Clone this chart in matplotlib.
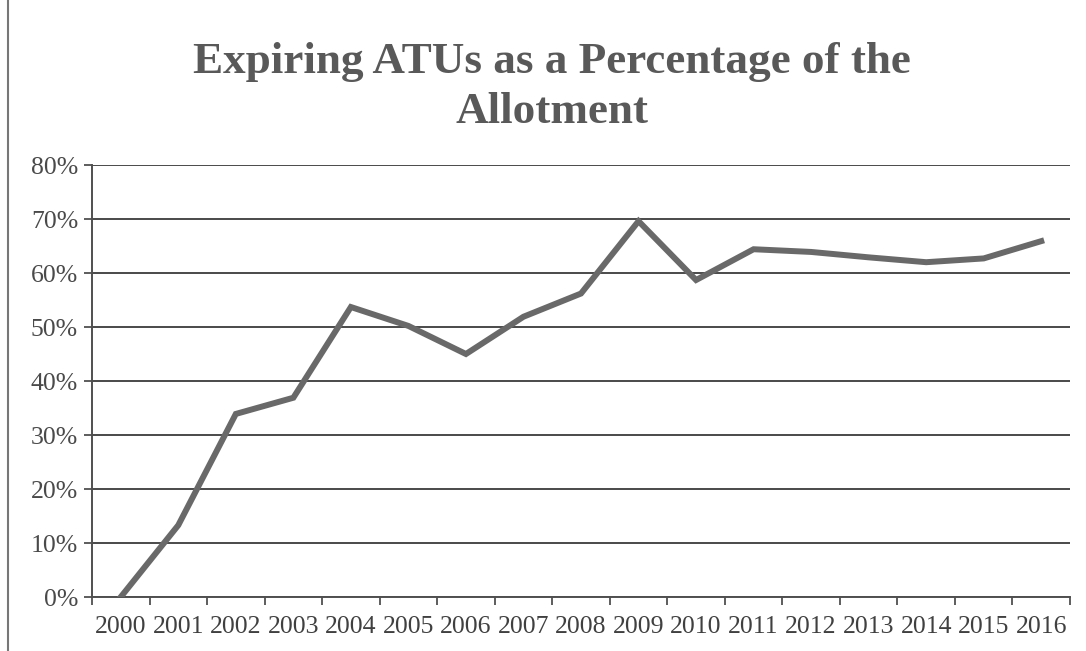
import matplotlib.pyplot as plt
from matplotlib.lines import Line2D
from matplotlib.ticker import FixedLocator, PercentFormatter

years = [str(y) for y in range(2000, 2017)]
pct_expiring = [0, 13.3, 33.9, 36.9, 53.7, 50.2, 45.0, 51.9, 56.2, 69.6,
                58.7, 64.4, 63.9, 62.9, 62.0, 62.7, 65.9]
y_ticks = [0, 10, 20, 30, 40, 50, 60, 70, 80]

plt.rcParams['font.family'] = ['Liberation Serif', 'DejaVu Serif']

fig = plt.figure(figsize=(10.86, 6.51), dpi=100)
ax = fig.add_axes([92 / 1086, 54 / 651, 978 / 1086, 432 / 651])

x = list(range(len(years)))
ax.plot(x, pct_expiring, color='#696969', linewidth=4.3, solid_joinstyle='miter', zorder=3)

ax.set_xlim(-0.5, len(years) - 0.5)
ax.set_ylim(0, 80)
ax.set_yticks(y_ticks)
ax.yaxis.set_major_formatter(PercentFormatter(decimals=0))
ax.grid(axis='y', color='#4a4a4a', linewidth=1.4)
ax.set_axisbelow(True)

# category axis: labels centred, ticks on the boundaries
ax.set_xticks(x)
ax.set_xticklabels(years)
ax.xaxis.set_minor_locator(FixedLocator([i - 0.5 for i in range(len(years) + 1)]))
ax.tick_params(axis='x', which='major', length=0, pad=14, labelsize=18.5, labelcolor='#404040')
ax.tick_params(axis='x', which='minor', length=6, width=1.3, color='#505050')
ax.tick_params(axis='y', length=6, width=1.3, color='#505050', labelsize=18.5,
               labelcolor='#4a4a4a', pad=4)

for side in ['top', 'right']:
    ax.spines[side].set_visible(False)
for side in ['left', 'bottom']:
    ax.spines[side].set_color('#505050')
    ax.spines[side].set_linewidth(1.4)

fig.text(0.508, 0.935, 'Expiring ATUs as a Percentage of the\nAllotment',
         ha='center', va='top', fontsize=32.5, fontweight='bold', color='#595959',
         linespacing=1.3)

# scanned page edge on the left
fig.add_artist(Line2D([8 / 1086, 8 / 1086], [0.0, 1.0], color='#777777', linewidth=1.5))

fig.savefig('out.png', dpi=100)
